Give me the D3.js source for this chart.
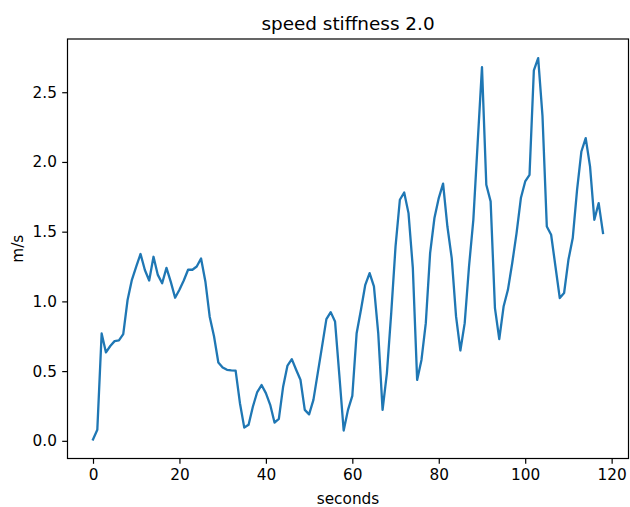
<!DOCTYPE html>
<html>
<head>
<meta charset="utf-8">
<script src="https://cdn.jsdelivr.net/npm/d3@7"></script>
<style>
	body { margin: 0; background: #fff; }
	svg text { font-family: 'DejaVu Sans', sans-serif; fill: #000; }
	.axis path, .axis line { stroke: #000; stroke-width: 1.2; }
</style>
</head>
<body>
<div class="vis"></div>
<script>
// speed readings, one per second
var speed = [
	0.01, 0.08, 0.77, 0.634, 0.68, 0.715, 0.72, 0.765, 1.01, 1.155,
	1.25, 1.34, 1.225, 1.15, 1.32, 1.19, 1.13, 1.24, 1.14, 1.026,
	1.083, 1.15, 1.227, 1.227, 1.25, 1.308, 1.143, 0.89, 0.75, 0.562,
	0.526, 0.509, 0.505, 0.503, 0.27, 0.095, 0.115, 0.246, 0.35, 0.40,
	0.342, 0.258, 0.131, 0.158, 0.39, 0.54, 0.586, 0.51, 0.438, 0.222,
	0.19, 0.294, 0.486, 0.677, 0.873, 0.923, 0.856, 0.47, 0.074, 0.222,
	0.323, 0.772, 0.94, 1.119, 1.203, 1.107, 0.77, 0.222, 0.486, 0.916,
	1.394, 1.729, 1.781, 1.633, 1.24, 0.437, 0.58, 0.844, 1.346, 1.598,
	1.741, 1.844, 1.537, 1.31, 0.892, 0.648, 0.844, 1.25, 1.585, 2.136,
	2.68, 1.836, 1.717, 0.952, 0.73, 0.963, 1.083, 1.275, 1.49, 1.741,
	1.86, 1.908, 2.656, 2.745, 2.33, 1.537, 1.478, 1.25, 1.024, 1.06,
	1.298, 1.454, 1.8, 2.075, 2.171, 1.968, 1.585, 1.705, 1.49
];
var seconds = speed.map(function(d, i) { return i; });
var xTicks = [0, 20, 40, 60, 80, 100, 120];
var yTicks = [0, 0.5, 1.0, 1.5, 2.0, 2.5];

var W = 630, H = 507;
var margin = {top: 39, right: 1.5, bottom: 48.5, left: 67.5};
var width = W - margin.left - margin.right,
    height = H - margin.top - margin.bottom;

var svg = d3.select('.vis').append('svg')
	.attr('width', W)
	.attr('height', H);

var chart = svg.append('g')
	.attr('transform', 'translate(' + margin.left + ',' + margin.top + ')');

// matplotlib style 5% padding around the data
var xMin = d3.min(seconds), xMax = d3.max(seconds);
var yMin = d3.min(speed), yMax = d3.max(speed);
var xPad = (xMax - xMin) * 0.05, yPad = (yMax - yMin) * 0.05;

var x = d3.scaleLinear()
	.domain([xMin - xPad, xMax + xPad])
	.range([0, width]);
var y = d3.scaleLinear()
	.domain([yMin - yPad, yMax + yPad])
	.range([height, 0]);

var xAxis = d3.axisBottom(x)
	.tickValues(xTicks)
	.tickFormat(d3.format('d'))
	.tickSize(5.3)
	.tickPadding(5.3)
	.tickSizeOuter(0);
var yAxis = d3.axisLeft(y)
	.tickValues(yTicks)
	.tickFormat(d3.format('.1f'))
	.tickSize(5.3)
	.tickPadding(5.3)
	.tickSizeOuter(0);

chart.append('g')
	.attr('class', 'x axis')
	.attr('transform', 'translate(0,' + height + ')')
	.call(xAxis)
	.call(function(g) { g.select('.domain').remove(); })
	.selectAll('text')
	.style('font-size', '15.3px')
	.style('font-family', "'DejaVu Sans', sans-serif");

chart.append('g')
	.attr('class', 'y axis')
	.call(yAxis)
	.call(function(g) { g.select('.domain').remove(); })
	.selectAll('text')
	.style('font-size', '15.3px')
	.style('font-family', "'DejaVu Sans', sans-serif");

var line = d3.line()
	.x(function(d, i) { return x(seconds[i]); })
	.y(function(d) { return y(d); });

chart.append('path')
	.datum(speed)
	.attr('fill', 'none')
	.attr('stroke', '#1f77b4')
	.attr('stroke-width', 2.3)
	.attr('stroke-linejoin', 'round')
	.attr('stroke-linecap', 'square')
	.attr('d', line);

// frame
chart.append('rect')
	.attr('width', width)
	.attr('height', height)
	.attr('fill', 'none')
	.attr('stroke', '#000')
	.attr('stroke-width', 1.2);

svg.append('text')
	.attr('x', margin.left + width / 2)
	.attr('y', margin.top - 9)
	.attr('text-anchor', 'middle')
	.style('font-size', '18.4px')
	.text('speed stiffness 2.0');

svg.append('text')
	.attr('x', margin.left + width / 2)
	.attr('y', 504)
	.attr('text-anchor', 'middle')
	.style('font-size', '15.3px')
	.text('seconds');

svg.append('text')
	.attr('transform', 'translate(23,' + (margin.top + height / 2) + ') rotate(-90)')
	.attr('text-anchor', 'middle')
	.style('font-size', '15.3px')
	.text('m/s');
</script>
</body>
</html>
